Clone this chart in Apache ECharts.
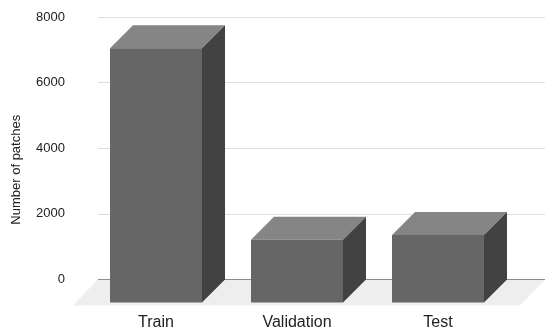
<!DOCTYPE html>
<html><head><meta charset="utf-8">
<style>html,body{margin:0;padding:0;background:#fff}#c{width:550px;height:331px}</style>
<script src="https://cdn.jsdelivr.net/npm/echarts@6/dist/echarts.min.js"></script>
</head><body><div id="c"></div>
<script>
const categories = ['Train', 'Validation', 'Test'];
const patchCounts = [7750, 1915, 2060];
const yTicks = { min: 0, max: 8000, interval: 2000 };
const yAxisName = 'Number of patches';

const DEPTH = 23, BAR_RATIO = 92 / 141, FLOOR_DEPTH = 26, FLOOR_SHIFT = 25;
const COL = { front: '#666666', top: '#858585', side: '#424242', floor: '#eeeeee' };
const FONT = '"Liberation Sans", Arial, sans-serif';

const chart = echarts.init(document.getElementById('c'), null, { renderer: 'canvas' });
const poly = (points, fill) => ({ type: 'polygon', shape: { points }, style: { fill }, silent: true });

chart.setOption({
  animation: false,
  backgroundColor: '#fff',
  grid: [
    { left: 98, top: 17, width: 447, height: 262.5, outerBoundsMode: 'none' },
    { left: 85.5, top: 17, width: 423, height: 262.5, outerBoundsMode: 'none' }
  ],
  xAxis: [
    { gridIndex: 0, type: 'category', data: categories, show: false },
    { gridIndex: 1, type: 'category', data: categories,
      axisLine: { show: false }, axisTick: { show: false }, splitLine: { show: false },
      axisLabel: { margin: 35, fontFamily: FONT, fontSize: 16, color: '#222' } }
  ],
  yAxis: [
    { gridIndex: 0, type: 'value', min: yTicks.min, max: yTicks.max, interval: yTicks.interval,
      name: yAxisName, nameLocation: 'middle', nameGap: 75,
      nameTextStyle: { fontFamily: FONT, fontSize: 13, color: '#222', padding: [0, 43, 0, 0] },
      axisLine: { show: false }, axisTick: { show: false },
      axisLabel: { margin: 33, fontFamily: FONT, fontSize: 13, color: '#222', formatter: v => String(v) },
      splitLine: { show: true, lineStyle: { color: '#dedede', width: 1 } } },
    { gridIndex: 1, type: 'value', min: yTicks.min, max: yTicks.max, interval: yTicks.interval, show: false }
  ],
  series: [
    { type: 'custom', xAxisIndex: 0, yAxisIndex: 0, z: 1, data: [0], silent: true,
      renderItem: (params, api) => {
        const cs = params.coordSys;
        const y0 = api.coord([0, 0])[1];
        const xl = cs.x, xr = cs.x + cs.width;
        return { type: 'group', children: [
          poly([[xl, y0], [xr, y0], [xr - FLOOR_SHIFT, y0 + FLOOR_DEPTH], [xl - FLOOR_SHIFT, y0 + FLOOR_DEPTH]], COL.floor),
          { type: 'line', shape: { x1: xl, y1: y0, x2: xr, y2: y0 }, style: { stroke: '#8c8c8c', lineWidth: 1 }, silent: true }
        ] };
      } },
    { type: 'custom', xAxisIndex: 1, yAxisIndex: 1, z: 3, silent: true,
      data: patchCounts.map((v, i) => [i, v]),
      encode: { x: 0, y: 1 },
      renderItem: (params, api) => {
        const i = api.value(0), v = api.value(1);
        const cx = api.coord([i, 0])[0];
        const w = api.size([1, 0])[0] * BAR_RATIO;
        const l = cx - w / 2, r = cx + w / 2;
        const top = api.coord([i, v])[1] + DEPTH;
        const bot = api.coord([i, 0])[1] + DEPTH;
        return { type: 'group', children: [
          poly([[l, top], [r, top], [r + DEPTH, top - DEPTH], [l + DEPTH, top - DEPTH]], COL.top),
          poly([[r, top], [r + DEPTH, top - DEPTH], [r + DEPTH, bot - DEPTH], [r, bot]], COL.side),
          poly([[l, top], [r, top], [r, bot], [l, bot]], COL.front)
        ] };
      } }
  ]
});
</script></body></html>
